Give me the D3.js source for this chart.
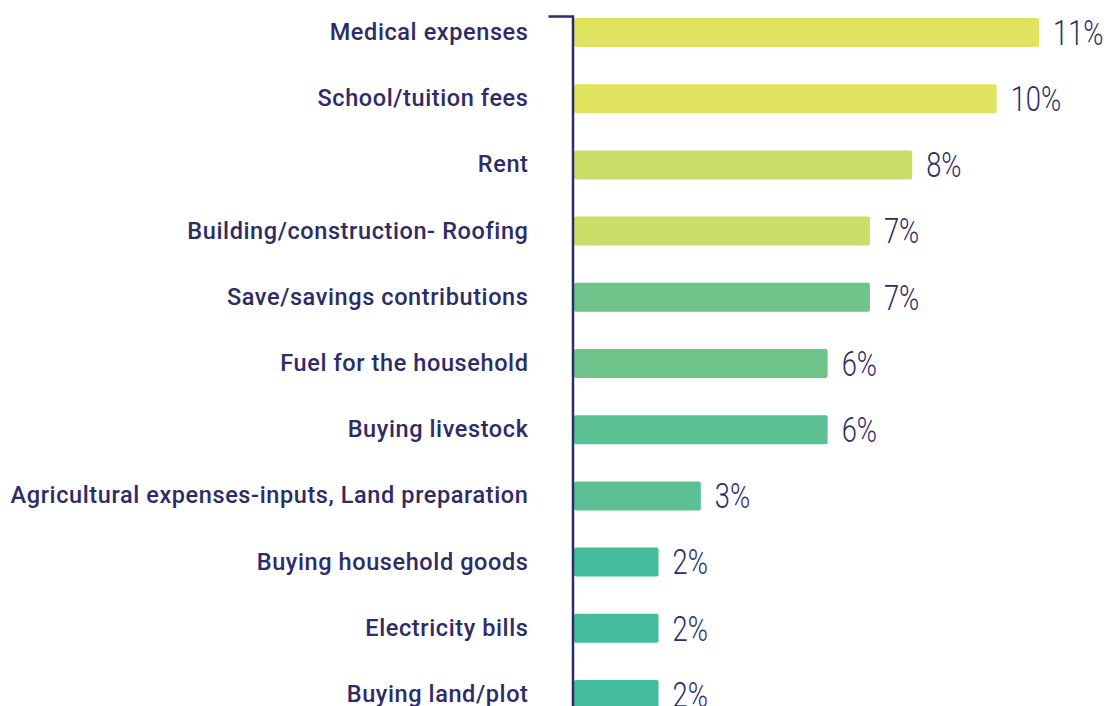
<!DOCTYPE html>
<html>
<head>
<meta charset="utf-8">
<script src="https://cdn.jsdelivr.net/npm/d3@7"></script>
<style>
  body { margin: 0; background: #fff; }
  svg { display: block; }
</style>
</head>
<body>
<svg id="chart" width="1104" height="706"></svg>
<script>
// spending categories, top to bottom
var categories = [
  "Medical expenses",
  "School/tuition fees",
  "Rent",
  "Building/construction- Roofing",
  "Save/savings contributions",
  "Fuel for the household",
  "Buying livestock",
  "Agricultural expenses-inputs, Land preparation",
  "Buying household goods",
  "Electricity bills",
  "Buying land/plot"
];
var shares = [11, 10, 8, 7, 7, 6, 6, 3, 2, 2, 2];
var barColors = ["#dfe35f", "#dfe35f", "#c9dd68", "#c9dd68", "#70c48b", "#70c48b",
                 "#5bc195", "#5bc195", "#44bd9c", "#44bd9c", "#44bd9c"];

var svg = d3.select("#chart");
var navy = "#2d2c66";

var x = d3.scaleLinear().domain([0, 11]).range([574, 1039]);
var y = d3.scaleBand().domain(categories).range([16, 711])
  .paddingInner(0.562).paddingOuter(0.03);

// bars
svg.selectAll("rect.bar")
  .data(categories).enter()
  .append("rect")
  .attr("class", "bar")
  .attr("x", x(0))
  .attr("y", function(d) { return y(d); })
  .attr("width", function(d, i) { return x(shares[i]) - x(0); })
  .attr("height", y.bandwidth())
  .attr("rx", 2)
  .attr("fill", function(d, i) { return barColors[i]; });

// axis with category labels
var axis = svg.append("g")
  .attr("transform", "translate(572.5,0)")
  .call(d3.axisLeft(y).tickSize(0).tickSizeOuter(24).tickPadding(44));
axis.select(".domain").attr("stroke", navy).attr("stroke-width", 2.5);
axis.selectAll("text")
  .attr("fill", navy)
  .attr("dy", "0.32em")
  .style("font-family", "Roboto, sans-serif")
  .style("font-weight", 500)
  .style("font-size", "23.5px")
  .style("letter-spacing", "0.6px");

// value labels
svg.selectAll("text.val")
  .data(categories).enter()
  .append("text")
  .attr("class", "val")
  .attr("transform", function(d, i) {
    return "translate(" + (x(shares[i]) + 14) + "," + (y(d) + y.bandwidth() / 2) + ") scale(0.78,1)";
  })
  .attr("dy", "0.35em")
  .attr("fill", navy)
  .style("font-family", "Roboto, sans-serif")
  .style("font-weight", 300)
  .style("font-size", "35px")
  .text(function(d, i) { return shares[i] + "%"; });
</script>
</body>
</html>
